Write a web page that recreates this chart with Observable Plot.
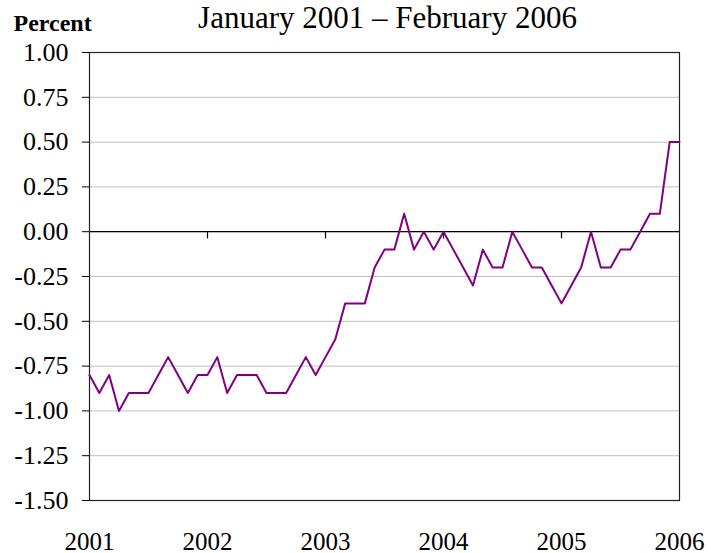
<!DOCTYPE html>
<html>
<head>
<meta charset="utf-8">
<script src="https://cdn.jsdelivr.net/npm/d3@7"></script>
<script src="https://cdn.jsdelivr.net/npm/@observablehq/plot@0.6"></script>
<style>
  html, body { margin: 0; padding: 0; background: #fff; }
  svg { display: block; }
</style>
</head>
<body>
<div id="chart"></div>
<script>
// Monthly values, January 2001 onward (percent)
const startYear = 2001;
const values = [
  -0.8, -0.9, -0.8, -1.0, -0.9, -0.9, -0.9, -0.8, -0.7, -0.8, -0.9, -0.8,
  -0.8, -0.7, -0.9, -0.8, -0.8, -0.8, -0.9, -0.9, -0.9, -0.8, -0.7, -0.8,
  -0.7, -0.6, -0.4, -0.4, -0.4, -0.2, -0.1, -0.1,  0.1, -0.1,  0.0, -0.1,
   0.0, -0.1, -0.2, -0.3, -0.1, -0.2, -0.2,  0.0, -0.1, -0.2, -0.2, -0.3,
  -0.4, -0.3, -0.2,  0.0, -0.2, -0.2, -0.1, -0.1,  0.0,  0.1,  0.1,  0.5,
   0.5
];
const yearLabels = [2001, 2002, 2003, 2004, 2005, 2006];
const yTicks = [1.0, 0.75, 0.5, 0.25, 0, -0.25, -0.5, -0.75, -1.0, -1.25, -1.5];
const title = "January 2001 \u2013 February 2006";
const yLabel = "Percent";

const data = values.map((v, i) => ({month: i, value: v}));
const yearPos = yearLabels.map(y => (y - startYear) * 12);
const innerYearPos = yearPos.slice(1, -1);

const serif = "Liberation Serif";

const chart = Plot.plot({
  width: 711,
  height: 553,
  marginTop: 52,
  marginBottom: 53,
  marginLeft: 89,
  marginRight: 32,
  style: {fontFamily: serif, color: "#000", background: "#fff"},
  x: {domain: [0, 60], axis: null},
  y: {domain: [-1.5, 1.0]},
  marks: [
    Plot.gridY(yTicks, {stroke: "#c0c0c0", strokeOpacity: 1}),
    Plot.ruleY([0], {stroke: "#000", strokeWidth: 1.2}),
    Plot.ruleX(innerYearPos, {y1: 0, y2: -0.04, stroke: "#000", strokeWidth: 1.2}),
    Plot.frame({stroke: "#222", strokeWidth: 1.2}),
    Plot.axisY({
      ticks: yTicks,
      tickFormat: () => "",
      tickSize: 7,
      label: null
    }),
    Plot.text(yTicks, {
      y: d => d,
      frameAnchor: "left",
      textAnchor: "end",
      dx: -21,
      text: d => d.toFixed(2),
      fontSize: 26,
      fontFamily: serif,
      fill: "#000"
    }),
    Plot.text(yearPos, {
      x: d => d,
      frameAnchor: "bottom",
      dy: 49,
      text: d => String(startYear + d / 12),
      fontSize: 25,
      fontFamily: serif,
      fill: "#000"
    }),
    Plot.line(data, {x: "month", y: "value", stroke: "#800080", strokeWidth: 2}),
    Plot.text([title], {frameAnchor: "top", dy: -47, dx: 3, fontSize: 31, fontFamily: serif, fill: "#000"}),
    Plot.text([yLabel], {frameAnchor: "top-left", textAnchor: "start", dx: -76, dy: -39, fontSize: 24, fontWeight: "bold", fontFamily: serif, fill: "#000"})
  ]
});

document.getElementById("chart").appendChild(chart);
</script>
</body>
</html>
